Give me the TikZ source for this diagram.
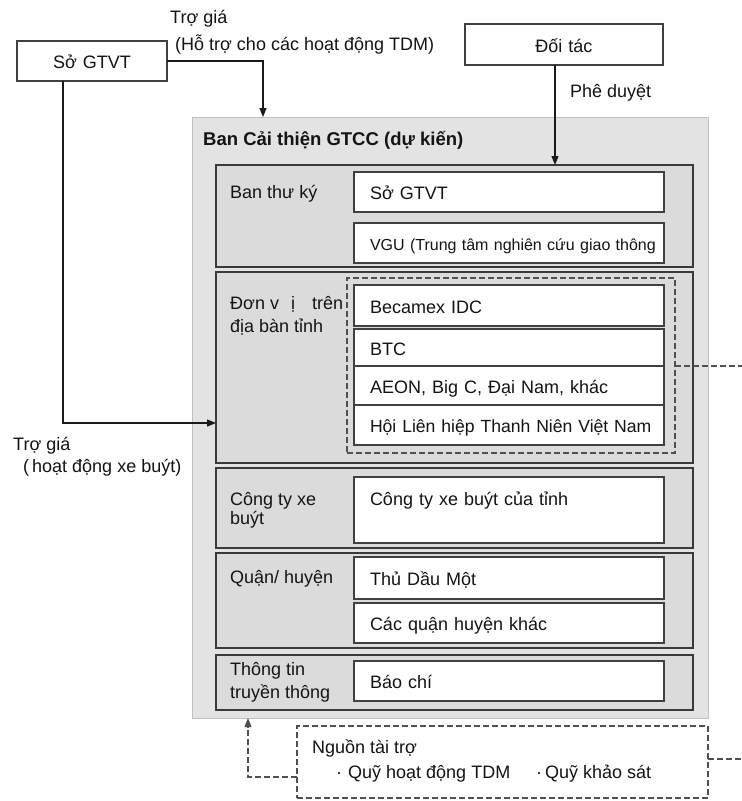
\documentclass[tikz,border=0pt]{standalone}
\usepackage{fontspec}
\setmainfont{Liberation Sans}
\usetikzlibrary{arrows.meta,calc}
\definecolor{outerfill}{HTML}{E3E3E3}
\definecolor{obord}{HTML}{C0C0C0}
\definecolor{secfill}{HTML}{DBDBDB}
\definecolor{sline}{HTML}{3A3A3A}
\definecolor{bline}{HTML}{404040}
\definecolor{dline}{HTML}{505050}
\definecolor{cline}{HTML}{1A1A1A}
\definecolor{txt}{HTML}{141414}
\newcommand{\mybox}[7][]{%
  \pgfmathsetmacro\myw{#5-#3}\pgfmathsetmacro\myh{#6-#4}\pgfmathsetmacro\mytw{#5-#3-32}%
  \node[#1,minimum width=\myw pt,minimum height=\myh pt,text width=\mytw pt,anchor=north west] (#2) at (#3,#4) {\mbox{#7}};}
\tikzset{
  base/.style={inner xsep=16pt,inner ysep=0pt,outer sep=0pt,font=\fontsize{18}{21}\selectfont,text=txt,text height=17pt,text depth=2pt,align=left},
  wbox/.style={base,draw=bline,fill=white,line width=1.1pt},
  outerbox/.style={base,draw=obord,fill=outerfill,line width=1pt},
  secbox/.style={base,draw=sline,fill=secfill,line width=1.3pt},
  grp/.style={base,draw=dline,line width=1.4pt,dash pattern=on 6pt off 3pt},
  dgrp/.style={grp,fill=white},
  lbl/.style={inner sep=0pt,anchor=base west,font=\fontsize{18}{21}\selectfont,text=txt},
  conn/.style={draw=cline,line width=1.2pt},
  tip/.style={-{Triangle[length=9pt,width=7pt]}},
  dconn/.style={draw=dline,line width=1.4pt,dash pattern=on 6pt off 3pt}
}
\begin{document}
\begin{tikzpicture}[x=1pt,y=-1pt]
\useasboundingbox[fill=white] (0,0) rectangle (742,801);
% top boxes
\mybox[wbox,align=center]{sgtvt}{17}{41}{167}{81}{Sở GTVT}
\mybox[wbox,align=center]{doitac}{465}{24}{663}{65}{Đối tác}
% outer box
\mybox[outerbox]{ban}{192}{117}{708}{718}{}
\node[lbl,font=\fontsize{18.5}{21}\selectfont\bfseries] (title) at (203,145) {Ban Cải thiện GTCC (dự kiến)};
% sections
\mybox[secbox]{s1}{216}{165}{693}{267}{}
\mybox[secbox]{s2}{216}{272}{693}{463}{}
\mybox[secbox]{s3}{216}{468}{693}{548}{}
\mybox[secbox]{s4}{216}{553}{693}{648}{}
\mybox[secbox]{s5}{216}{655}{693}{710}{}
% section labels
\node[lbl] (l1) at (230,198) {Ban thư ký};
\node[lbl] (l2a) at (230,309) {\makebox[113pt][l]{Đơn v\hspace{12pt}ị\hfill trên}};
\node[lbl] (l2b) at (230,332) {địa bàn tỉnh};
\node[lbl] (l3a) at (230,505) {Công ty xe};
\node[lbl] (l3b) at (230,524) {buýt};
\node[lbl] (l4) at (230,583) {Quận/ huyện};
\node[lbl] (l5a) at (230,675) {Thông tin};
\node[lbl] (l5b) at (230,698) {truyền thông};
% dashed group
\mybox[grp]{grp}{347}{278}{675}{453}{}
% white boxes
\mybox[wbox]{w1}{354}{172}{664}{212}{Sở GTVT}
\mybox[wbox,font=\fontsize{16}{19}\selectfont]{w2}{354}{223}{664}{263}{VGU (Trung tâm nghiên cứu giao thông}
\mybox[wbox]{w3}{354}{285}{664}{326}{Becamex IDC}
\mybox[wbox]{w4}{354}{329}{664}{366}{BTC}
\mybox[wbox]{w5}{354}{366}{664}{405}{AEON, Big C, Đại Nam, khác}
\mybox[wbox,font=\fontsize{17.6}{21}\selectfont]{w6}{354}{405}{664}{445}{Hội Liên hiệp Thanh Niên Việt Nam}
\mybox[wbox,text depth=27pt]{w7}{354}{477}{664}{543}{Công ty xe buýt của tỉnh}
\mybox[wbox]{w8}{354}{557}{664}{599}{Thủ Dầu Một}
\mybox[wbox]{w9}{354}{603}{664}{643}{Các quận huyện khác}
\mybox[wbox]{w10}{354}{661}{664}{701}{Báo chí}
% funding box
\mybox[dgrp]{nguon}{297}{726}{708}{798}{}
\node[lbl] (n1) at (312,753) {Nguồn tài trợ};
\node[lbl] (n2) at (336,778) {·\hspace{6pt}Quỹ hoạt động TDM};
\node[lbl] (n3) at (536,778) {·\hspace{3pt}Quỹ khảo sát};
% free labels
\node[lbl] (tg1) at (170,23) {Trợ giá};
\node[lbl] (tg1b) at (175,50) {(Hỗ trợ cho các hoạt động TDM)};
\node[lbl] (pd) at (570,97) {Phê duyệt};
\node[lbl] (tg2) at (13,450) {Trợ giá};
\node[lbl] (tg2b) at (23,472) {(\hspace{3pt}hoạt động xe buýt)};
% coordinates
\coordinate (c1) at (263,0);
\coordinate (c2) at (555,0);
\coordinate (c3) at (63,423);
\coordinate (c4) at (248,777);
\coordinate (e1) at (742,366);
\coordinate (e2) at (742,759);
% connectors
\draw[conn,tip] (sgtvt.east) -| (c1 |- ban.north);
\draw[conn,tip] (c2 |- doitac.south) -- (c2 |- s1.north);
\draw[conn,tip] (c3 |- sgtvt.south) |- (s2.west |- c3);
\draw[dconn] (e1 -| grp.east) -- (e1);
\draw[dconn] (e2 -| nguon.east) -- (e2);
\draw[dconn,-{Triangle[length=9pt,width=7pt]}] (c4 -| nguon.west) -| (c4 |- ban.south);
\end{tikzpicture}
\end{document}
